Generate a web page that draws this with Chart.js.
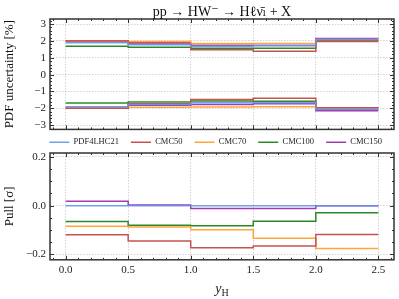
<!DOCTYPE html>
<html>
<head>
<meta charset="utf-8">
<script src="https://cdn.jsdelivr.net/npm/chart.js@4/dist/chart.umd.min.js"></script>
<style>
  html, body { margin: 0; padding: 0; background: #fff; }
  #wrap { position: relative; width: 399px; height: 299px; overflow: hidden; }
  .box { position: absolute; left: 0; width: 399px; }
  #boxTop { top: 0; height: 140px; }
  #boxPull { top: 126px; height: 173px; }
</style>
</head>
<body>
<div id="wrap">
  <div class="box" id="boxTop"><canvas id="cTop"></canvas></div>
  <div class="box" id="boxPull"><canvas id="cPull"></canvas></div>
</div>
<script>
// bin edges in y_H
var edges = [0, 0.5, 1.0, 1.5, 2.0, 2.5];

var nomes = ['PDF4LHC21', 'CMC50', 'CMC70', 'CMC100', 'CMC150'];
var cores = ['rgba(100,149,237,0.9)', '#c8524f', 'rgba(255,160,50,0.95)', '#2a8a2a', '#a03cb0'];

// PDF uncertainty [%], upper / lower edge per bin
var pdf4lhcUp = [1.89, 1.77, 1.69, 1.73, 2.08];
var pdf4lhcDn = [-1.90, -1.77, -1.67, -1.67, -2.05];
var cmc50Up = [2.00, 1.81, 1.48, 1.38, 1.96];
var cmc50Dn = [-2.00, -1.73, -1.48, -1.40, -1.96];
var cmc70Up = [1.95, 1.96, 1.85, 1.85, 2.08];
var cmc70Dn = [-1.95, -1.94, -1.92, -1.90, -2.05];
var cmc100Up = [1.69, 1.62, 1.56, 1.56, 2.02];
var cmc100Dn = [-1.69, -1.62, -1.56, -1.58, -1.96];
var cmc150Up = [2.00, 1.89, 1.75, 1.73, 2.15];
var cmc150Dn = [-2.00, -1.81, -1.77, -1.73, -2.15];

// pull [sigma] per bin
var pdf4lhcPull = [0, 0, 0, 0, 0];
var cmc50Pull = [-0.119, -0.145, -0.173, -0.165, -0.118];
var cmc70Pull = [-0.084, -0.087, -0.099, -0.134, -0.176];
var cmc100Pull = [-0.065, -0.080, -0.082, -0.064, -0.029];
var cmc150Pull = [0.018, 0.003, -0.012, -0.012, 0.0];

var bandas = [
    [pdf4lhcUp, pdf4lhcDn], [cmc50Up, cmc50Dn], [cmc70Up, cmc70Dn],
    [cmc100Up, cmc100Dn], [cmc150Up, cmc150Dn]
];
var pulls = [pdf4lhcPull, cmc50Pull, cmc70Pull, cmc100Pull, cmc150Pull];

var topTicks = [-3, -2, -1, 0, 1, 2, 3];
var pullTicks = [-0.2, 0.0, 0.2];
var xTicks = [0.0, 0.5, 1.0, 1.5, 2.0, 2.5];

var titulo = 'pp \u2192 HW\u207B \u2192 H\u2113\u03BD\u0304\u2097 + X';

var serif = "'Liberation Serif', 'DejaVu Serif', serif";

function degraus(vals) {
    var pts = [];
    for (var i = 0; i < vals.length; i++) pts.push({ x: edges[i], y: vals[i] });
    pts.push({ x: edges[edges.length - 1], y: vals[vals.length - 1] });
    return pts;
}

function menos(v) {
    return String(v).replace('-', '\u2212');
}

// frame + inward ticks, like the matplotlib style
function molduraPlugin(yMinorStep) {
    return {
        id: 'moldura',
        afterDraw: function(chart) {
            var a = chart.chartArea, ctx = chart.ctx;
            var xs = chart.scales.x, ys = chart.scales.y;
            ctx.save();
            ctx.strokeStyle = '#333';
            ctx.lineWidth = 1;
            var v, p;
            for (v = -0.1; v <= 2.61; v += 0.1) {
                var maior = Math.abs(v * 2 - Math.round(v * 2)) < 1e-6;
                var len = maior ? 4 : 2;
                p = Math.round(xs.getPixelForValue(v)) + 0.5;
                ctx.beginPath();
                ctx.moveTo(p, a.bottom); ctx.lineTo(p, a.bottom - len);
                ctx.moveTo(p, a.top); ctx.lineTo(p, a.top + len);
                ctx.stroke();
            }
            var lo = ys.min, hi = ys.max;
            var k0 = Math.ceil(lo / yMinorStep - 1e-6), k1 = Math.floor(hi / yMinorStep + 1e-6);
            for (var k = k0; k <= k1; k++) {
                v = k * yMinorStep;
                var maj = ys.ticks.some(function(t) { return Math.abs(t.value - v) < 1e-6; });
                var l2 = maj ? 4 : 2;
                p = Math.round(ys.getPixelForValue(v)) + 0.5;
                ctx.beginPath();
                ctx.moveTo(a.left, p); ctx.lineTo(a.left + l2, p);
                ctx.moveTo(a.right, p); ctx.lineTo(a.right - l2, p);
                ctx.stroke();
            }
            ctx.lineWidth = 1.5;
            ctx.strokeStyle = '#333';
            ctx.strokeRect(a.left, a.top, a.right - a.left, a.bottom - a.top);
            ctx.restore();
        }
    };
}

// title centred over the plot area
var tituloPlugin = {
    id: 'titulo',
    afterDraw: function(chart) {
        var a = chart.chartArea, ctx = chart.ctx;
        ctx.save();
        ctx.fillStyle = '#111';
        ctx.font = '14px ' + serif;
        ctx.textAlign = 'center';
        ctx.textBaseline = 'alphabetic';
        ctx.fillText(titulo, (a.left + a.right) / 2, a.top - 3);
        ctx.restore();
    }
};

var xLabelPlugin = {
    id: 'xlabel',
    afterDraw: function(chart) {
        var a = chart.chartArea, ctx = chart.ctx;
        var cx = (a.left + a.right) / 2;
        var y = chart.height - 6;
        ctx.save();
        ctx.fillStyle = '#222';
        ctx.textBaseline = 'alphabetic';
        ctx.font = 'italic 14px ' + serif;
        var w = ctx.measureText('y').width;
        ctx.font = '10px ' + serif;
        var w2 = ctx.measureText('H').width;
        var x0 = cx - (w + w2) / 2;
        ctx.font = 'italic 14px ' + serif;
        ctx.fillText('y', x0, y);
        ctx.font = '10px ' + serif;
        ctx.fillText('H', x0 + w, y + 3);
        ctx.restore();
    }
};

function fixaLargura(scale) { scale.width = 50; }

var gridStyle = { color: 'rgba(0,0,0,0.22)', lineWidth: 0.8, drawTicks: false };
var borderStyle = { display: false, dash: [1.5, 1.5] };

// top panel: PDF uncertainty bands
var dsTop = [];
for (var i = bandas.length - 1; i >= 0; i--) {
    for (var j = 0; j < 2; j++) {
        dsTop.push({
            label: nomes[i], data: degraus(bandas[i][j]),
            borderColor: cores[i], backgroundColor: cores[i],
            borderWidth: 1.5, pointRadius: 0, stepped: true, fill: false
        });
    }
}
dsTop.reverse();

new Chart(document.getElementById('cTop'), {
    type: 'line',
    data: { datasets: dsTop },
    options: {
        responsive: true, maintainAspectRatio: false, animation: false,
        layout: { padding: { left: 0, right: 5, top: 19, bottom: 8 } },
        plugins: {
            legend: { display: false },
            tooltip: { enabled: false }
        },
        scales: {
            x: {
                type: 'linear', min: -0.125, max: 2.625,
                ticks: { display: false, stepSize: 0.5, includeBounds: false },
                grid: gridStyle, border: borderStyle
            },
            y: {
                min: -3.25, max: 3.3,
                afterFit: fixaLargura,
                afterBuildTicks: function(s) { s.ticks = topTicks.map(function(v) { return { value: v }; }); },
                ticks: {
                    callback: function(v) { return menos(v); },
                    font: { family: serif, size: 11 }, color: '#222', padding: 4
                },
                grid: gridStyle, border: borderStyle,
                title: {
                    display: true, text: 'PDF uncertainty [%]',
                    font: { family: serif, size: 13 }, color: '#111', padding: { top: 2, bottom: 0 }
                }
            }
        }
    },
    plugins: [molduraPlugin(0.2), tituloPlugin]
});

// bottom panel: pulls
var dsPull = [];
for (var i = 0; i < pulls.length; i++) {
    dsPull.push({
        label: nomes[i], data: degraus(pulls[i]),
        borderColor: cores[i], backgroundColor: cores[i],
        borderWidth: 1.5, pointRadius: 0, stepped: true, fill: false
    });
}

new Chart(document.getElementById('cPull'), {
    type: 'line',
    data: { datasets: dsPull },
    options: {
        responsive: true, maintainAspectRatio: false, animation: false,
        layout: { padding: { left: 0, right: 5, top: 0, bottom: 18 } },
        plugins: {
            tooltip: { enabled: false },
            legend: {
                display: true, position: 'top', align: 'end', maxHeight: 27,
                labels: {
                    usePointStyle: true, pointStyle: 'line', pointStyleWidth: 20,
                    boxHeight: 8, padding: 12,
                    font: { family: serif, size: 8.5 }, color: '#222'
                }
            }
        },
        scales: {
            x: {
                type: 'linear', min: -0.125, max: 2.625,
                afterBuildTicks: function(s) { s.ticks = xTicks.map(function(v) { return { value: v }; }); },
                ticks: {
                    callback: function(v) { return v.toFixed(1); },
                    font: { family: serif, size: 11 }, color: '#222', padding: 4, maxRotation: 0
                },
                grid: gridStyle, border: borderStyle
            },
            y: {
                min: -0.222, max: 0.216,
                afterFit: fixaLargura,
                afterBuildTicks: function(s) { s.ticks = pullTicks.map(function(v) { return { value: v }; }); },
                ticks: {
                    callback: function(v) { return menos(v.toFixed(1)); },
                    font: { family: serif, size: 11 }, color: '#222', padding: 4
                },
                grid: gridStyle, border: borderStyle,
                title: {
                    display: true, text: 'Pull [\u03C3]',
                    font: { family: serif, size: 13 }, color: '#111', padding: { top: 2, bottom: 0 }
                }
            }
        }
    },
    plugins: [molduraPlugin(0.05), xLabelPlugin]
});
</script>
</body>
</html>
